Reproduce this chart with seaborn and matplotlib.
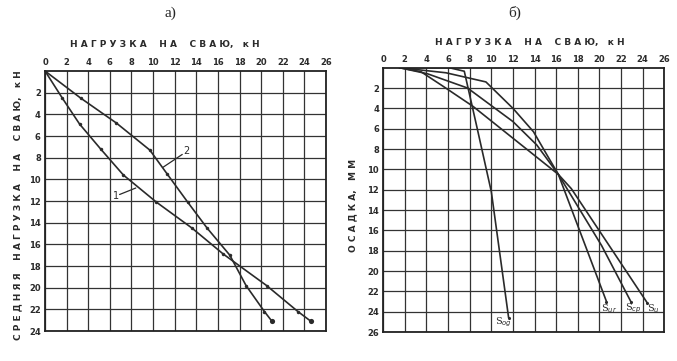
import numpy as np
import pandas as pd
import matplotlib
matplotlib.use("Agg")
import matplotlib.pyplot as plt
import seaborn as sns

# ---- data: left panel (а) ----
c1_x = [0, 1.6, 3.2, 5.15, 7.25, 10.3, 13.6, 16.5, 20.5, 23.4, 24.6]
c1_y = [0, 2.5, 4.9, 7.2, 9.6, 12.1, 14.5, 16.9, 19.8, 22.2, 23.1]
c2_x = [0, 3.3, 6.6, 9.7, 11.3, 13.2, 15.0, 17.1, 18.6, 20.3, 21.0]
c2_y = [0, 2.5, 4.8, 7.3, 9.5, 12.1, 14.5, 17.0, 19.8, 22.2, 23.1]

# ---- data: right panel (б) ----
sog_x = [1.5, 6.1, 7.5, 8.7, 10.0, 11.6]
sog_y = [0, 0.0, 0.35, 6.0, 12.2, 24.6]
sur_x = [1.5, 5.8, 9.5, 12.0, 13.9, 15.1, 16.2, 20.65]
sur_y = [0, 0.5, 1.4, 4.0, 6.3, 8.5, 10.5, 23.0]
scp_x = [1.5, 4.1, 7.8, 12.0, 14.2, 16.2, 20.2, 22.9]
scp_y = [0, 0.6, 2.0, 5.3, 7.6, 10.5, 17.5, 23.0]
su_x = [1.5, 3.5, 5.5, 8.3, 16.2, 17.4, 24.4]
su_y = [0, 0.4, 1.8, 3.8, 10.5, 11.9, 23.1]

x_ticks = list(range(0, 27, 2))
left_yticks = list(range(2, 25, 2))
right_yticks = list(range(2, 27, 2))

xlabel = "Н А Г Р У З К А    Н А    С В А Ю,   к Н"
left_ylabel = "С Р Е Д Н Я Я    Н А Г Р У З К А    Н А    С В А Ю,   к Н"
right_ylabel = "О С А Д К А,   М М"

sns.set_style("white")
plt.rcParams['font.family'] = ['DejaVu Sans']

fig = plt.figure(figsize=(6.77, 3.61), dpi=100)
axL = fig.add_axes([0.0665, 0.0831, 0.415, 0.7202])
axR = fig.add_axes([0.566, 0.0803, 0.4153, 0.7322])

ink = "#2a2a2a"

def style(ax, ymax, yt):
    ax.set_xlim(0, 26)
    ax.set_ylim(ymax, 0)
    ax.xaxis.tick_top()
    ax.set_xticks(x_ticks)
    ax.set_yticks(yt)
    ax.set_xticklabels([str(t) for t in x_ticks], fontsize=6, fontweight='bold', color=ink)
    ax.set_yticklabels([str(t) for t in yt], fontsize=6, fontweight='bold', color=ink)
    ax.tick_params(length=0, pad=3)
    ax.grid(True, color="#333333", linewidth=0.9)
    for s in ax.spines.values():
        s.set_visible(True)
        s.set_color("#222222")
        s.set_linewidth(1.3)
    ax.set_xlabel("")
    ax.set_ylabel("")

# left panel
dfL = pd.concat([
    pd.DataFrame({"x": c1_x, "y": c1_y, "c": "1"}),
    pd.DataFrame({"x": c2_x, "y": c2_y, "c": "2"}),
])
sns.lineplot(data=dfL, x="x", y="y", units="c", estimator=None, sort=False,
             color=ink, linewidth=1.2, marker="o", markersize=2.5,
             markeredgewidth=0, ax=axL, legend=False)
sns.scatterplot(x=[c1_x[-1], c2_x[-1]], y=[c1_y[-1], c2_y[-1]], color=ink,
                s=14, linewidth=0, ax=axL, legend=False)
style(axL, 24, left_yticks)
axL.plot([6.9, 8.4], [11.4, 10.8], color=ink, lw=0.9)
axL.text(6.6, 11.5, "1", fontsize=7, color=ink, ha='center', va='center')
axL.plot([12.7, 10.9], [7.7, 8.9], color=ink, lw=0.9)
axL.text(13.1, 7.4, "2", fontsize=7, color=ink, ha='center', va='center')

# right panel
dfR = pd.concat([
    pd.DataFrame({"x": sog_x, "y": sog_y, "c": "Sog"}),
    pd.DataFrame({"x": sur_x, "y": sur_y, "c": "Sur"}),
    pd.DataFrame({"x": scp_x, "y": scp_y, "c": "Scp"}),
    pd.DataFrame({"x": su_x, "y": su_y, "c": "Su"}),
])
sns.lineplot(data=dfR, x="x", y="y", units="c", estimator=None, sort=False,
             color=ink, linewidth=1.2, ax=axR, legend=False)
sns.scatterplot(x=[sog_x[-1], sur_x[-1], scp_x[-1], su_x[-1]],
                y=[sog_y[-1], sur_y[-1], scp_y[-1], su_y[-1]],
                color=ink, s=5, linewidth=0, ax=axR, legend=False)
style(axR, 26, right_yticks)
axR.text(11.1, 25.0, "S$_{og}$", fontsize=7, color=ink, ha='center', va='center', family='DejaVu Serif')
axR.text(20.9, 23.7, "S$_{ur}$", fontsize=7, color=ink, ha='center', va='center', family='DejaVu Serif')
axR.text(23.1, 23.7, "S$_{cp}$", fontsize=7, color=ink, ha='center', va='center', family='DejaVu Serif')
axR.text(25.0, 23.7, "S$_{u}$", fontsize=7, color=ink, ha='center', va='center', family='DejaVu Serif')

# labels and titles
fig.text(165/677, 1 - 45/361, xlabel, fontsize=6.5, fontweight='bold', color=ink, ha='center', va='center')
fig.text(530/677, 1 - 43/361, xlabel, fontsize=6.5, fontweight='bold', color=ink, ha='center', va='center')
fig.text(18/677, 1 - 205/361, left_ylabel, fontsize=6.5, fontweight='bold', color=ink,
         ha='center', va='center', rotation=90)
fig.text(353/677, 1 - 205/361, right_ylabel, fontsize=6.5, fontweight='bold', color=ink,
         ha='center', va='center', rotation=90)
fig.text(170/677, 1 - 13/361, "а)", fontsize=11, family='Liberation Serif', ha='center', va='center')
fig.text(515/677, 1 - 13/361, "б)", fontsize=11, family='Liberation Serif', ha='center', va='center')

fig.savefig("out.png", dpi=100, facecolor="white")
